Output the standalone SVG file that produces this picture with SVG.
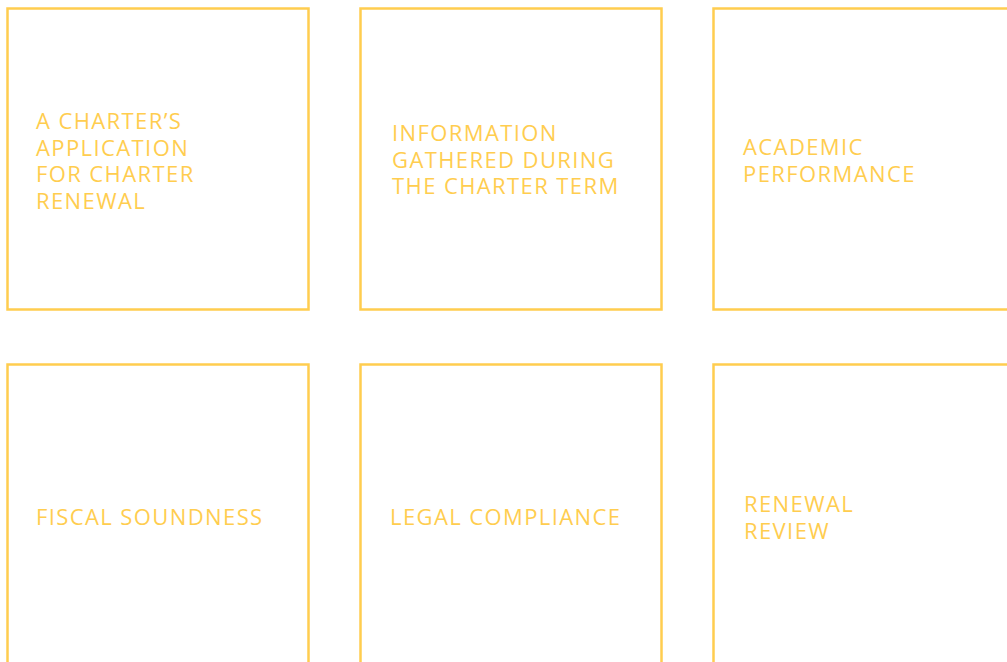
<svg xmlns="http://www.w3.org/2000/svg" width="1007" height="662" viewBox="0 0 1007 662">
<style>
.box{fill:#fff;stroke:#FFCD4F;stroke-width:2.5}
.t{font-family:"Open Sans","Noto Sans",sans-serif;font-size:22px;fill:#FFCD4F;letter-spacing:1.4px}
</style>
<rect width="1007" height="662" fill="#fff"/>
<g id="connectors"></g>
<g id="n1"><rect class="box" x="7.5" y="8.5" width="301" height="301"/>
<text class="t" x="36" y="129">A CHARTER’S</text><text class="t" x="36" y="156">APPLICATION</text><text class="t" x="36" y="182">FOR CHARTER</text><text class="t" x="36" y="209">RENEWAL</text></g>
<g id="n2"><rect class="box" x="360.5" y="8.5" width="301" height="301"/>
<text class="t" x="392" y="141">INFORMATION</text><text class="t" x="392" y="168">GATHERED DURING</text><text class="t" x="392" y="194">THE CHARTER TERM</text></g>
<g id="n3"><rect class="box" x="713.5" y="8.5" width="301" height="301"/>
<text class="t" x="743" y="155">ACADEMIC</text><text class="t" x="743" y="182">PERFORMANCE</text></g>
<g id="n4"><rect class="box" x="7.5" y="364.5" width="301" height="301"/>
<text class="t" x="36" y="525">FISCAL SOUNDNESS</text></g>
<g id="n5"><rect class="box" x="360.5" y="364.5" width="301" height="301"/>
<text class="t" x="390" y="525">LEGAL COMPLIANCE</text></g>
<g id="n6"><rect class="box" x="713.5" y="364.5" width="301" height="301"/>
<text class="t" x="744" y="512">RENEWAL</text><text class="t" x="744" y="539">REVIEW</text></g>
</svg>
